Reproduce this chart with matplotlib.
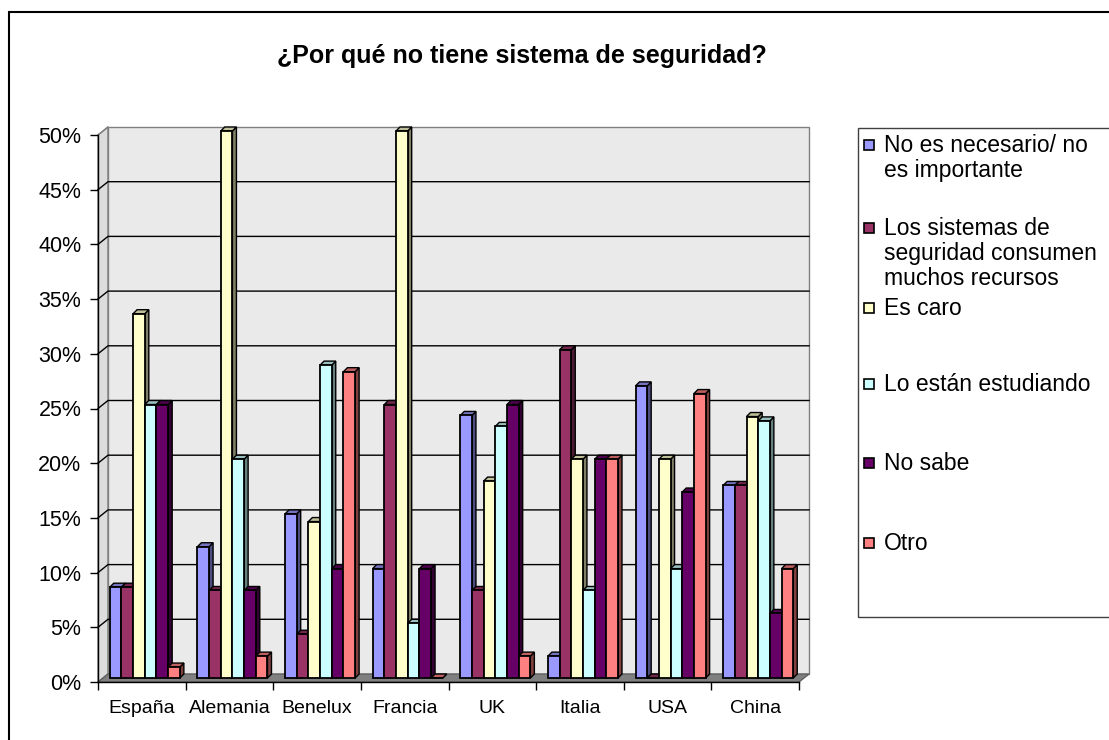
import matplotlib
matplotlib.use("Agg")
import matplotlib.pyplot as plt
from matplotlib.patches import Polygon, Rectangle

plt.rcParams["font.family"] = ["Liberation Sans", "DejaVu Sans"]

# data (share of respondents)
countries = ["España", "Alemania", "Benelux", "Francia", "UK", "Italia", "USA", "China"]
series_names = [
    "No es necesario/ no\nes importante",
    "Los sistemas de\nseguridad consumen\nmuchos recursos",
    "Es caro",
    "Lo están estudiando",
    "No sabe",
    "Otro",
]
no_necesario = [0.083, 0.12, 0.15, 0.10, 0.24, 0.02, 0.267, 0.176]
consumen_recursos = [0.083, 0.08, 0.04, 0.25, 0.08, 0.30, 0.0, 0.176]
es_caro = [0.333, 0.50, 0.143, 0.50, 0.18, 0.20, 0.20, 0.239]
estudiando = [0.25, 0.20, 0.286, 0.05, 0.23, 0.08, 0.10, 0.235]
no_sabe = [0.25, 0.08, 0.10, 0.10, 0.25, 0.20, 0.17, 0.059]
otro = [0.01, 0.02, 0.28, 0.0, 0.02, 0.20, 0.26, 0.10]
series = [no_necesario, consumen_recursos, es_caro, estudiando, no_sabe, otro]
colors = ["#9999FF", "#993366", "#FFFFCC", "#CCFFFF", "#660066", "#FF8080"]
y_ticks = [i * 0.05 for i in range(11)]
y_labels = [f"{int(round(t * 100))}%" for t in y_ticks]

W, H = 1109, 740
fig = plt.figure(figsize=(W / 100, H / 100), dpi=100)

# figure frame (runs off right/bottom edge in the reference)
fig.add_artist(Rectangle((9 / W, -0.05), 1.2, 1 - 12 / H + 0.05, transform=fig.transFigure,
                         fill=False, edgecolor="black", linewidth=1.5))

ax_l, ax_r, ax_t, ax_b = 98, 799, 135, 682
ax = fig.add_axes([ax_l / W, 1 - ax_b / H, (ax_r - ax_l) / W, (ax_b - ax_t) / H])
n = len(countries)
ax.set_xlim(0, n)
ax.set_ylim(0, 0.5)
ax.set_facecolor("none")

# pixel -> data unit factors
px = n / (ax_r - ax_l)
py = 0.5 / (ax_b - ax_t)

# 3d walls
wdx, wdy = 10 * px, 8 * py
ax.add_patch(Polygon([(0, 0), (wdx, wdy), (wdx, 0.5 + wdy), (0, 0.5)], closed=True,
                     facecolor="#DCDCDC", edgecolor="#808080", linewidth=1, zorder=0, clip_on=False))
ax.add_patch(Rectangle((wdx, wdy), n, 0.5, facecolor="#EAEAEA", edgecolor="#808080",
                       linewidth=1, zorder=0, clip_on=False))
ax.add_patch(Polygon([(0, 0), (n, 0), (n + wdx, wdy), (wdx, wdy)], closed=True,
                     facecolor="#808080", edgecolor="#606060", linewidth=1, zorder=1, clip_on=False))
for t in y_ticks[1:-1]:
    ax.plot([0, wdx, n + wdx], [t, t + wdy, t + wdy], color="black", linewidth=1,
            zorder=1, clip_on=False)
ax.plot([0, wdx], [0.5, 0.5 + wdy], color="#808080", linewidth=1, zorder=1, clip_on=False)


def shade(c, f):
    c = matplotlib.colors.to_rgb(c)
    return tuple(v * f for v in c)


# 3d bars
gap = 0.1
bw = (1 - 2 * gap) / len(series)
fx, fy = 3 * px, 4 * py
ddx, ddy = 4 * px, 4 * py
z = 2
for i in range(n):
    for j, vals in enumerate(series):
        h = vals[i]
        xl = i + gap + j * bw + fx
        xr = xl + bw
        top = fy + h
        side = Polygon([(xr, fy), (xr + ddx, fy + ddy), (xr + ddx, top + ddy), (xr, top)],
                       closed=True, facecolor=shade(colors[j], 0.5), edgecolor="black",
                       linewidth=1, zorder=z, clip_on=False)
        cap = Polygon([(xl, top), (xl + ddx, top + ddy), (xr + ddx, top + ddy), (xr, top)],
                      closed=True, facecolor=shade(colors[j], 0.75), edgecolor="black",
                      linewidth=1, zorder=z, clip_on=False)
        ax.add_patch(side)
        ax.add_patch(cap)
        ax.bar(xl, h, width=bw, bottom=fy, align="edge", color=colors[j], edgecolor="black",
               linewidth=1.3, zorder=z + 0.5, clip_on=False)
        z += 1

for s in ["top", "right"]:
    ax.spines[s].set_visible(False)
for s in ["left", "bottom"]:
    ax.spines[s].set_color("black")
    ax.spines[s].set_linewidth(1)
    ax.spines[s].set_zorder(z + 1)

ax.set_yticks(y_ticks)
ax.set_yticklabels(y_labels, fontsize=15.5)
ax.set_xticks(range(n + 1))
ax.set_xticklabels([""] * (n + 1))
ax.set_xticks([i + 0.5 for i in range(n)], minor=True)
ax.set_xticklabels(countries, minor=True, fontsize=14)
ax.tick_params(axis="y", direction="out", length=6, width=1, pad=6)
ax.tick_params(axis="x", which="major", direction="out", length=6, width=1)
ax.tick_params(axis="x", which="minor", length=0, pad=13)

fig.text(522 / W, 1 - 56 / H, "¿Por qué no tiene sistema de seguridad?", ha="center",
         va="center", fontsize=18, fontweight="bold")

# legend box, drawn by hand to match the uneven spacing
fig.add_artist(Rectangle((858 / W, 1 - 617 / H), 0.5, (617 - 128) / H, transform=fig.transFigure,
                         fill=False, edgecolor="#404040", linewidth=1))
entry_y = [145, 228, 308, 384, 463, 543]
for name, c, y in zip(series_names, colors, entry_y):
    fig.add_artist(Rectangle((864 / W, 1 - (y + 5) / H), 10 / W, 10 / H, transform=fig.transFigure,
                             facecolor=c, edgecolor="black", linewidth=1.2))
    fig.text(884 / W, 1 - (y - 11) / H, name, ha="left", va="top", fontsize=16.5,
             linespacing=1.12)

fig.savefig("out.png", dpi=100)
